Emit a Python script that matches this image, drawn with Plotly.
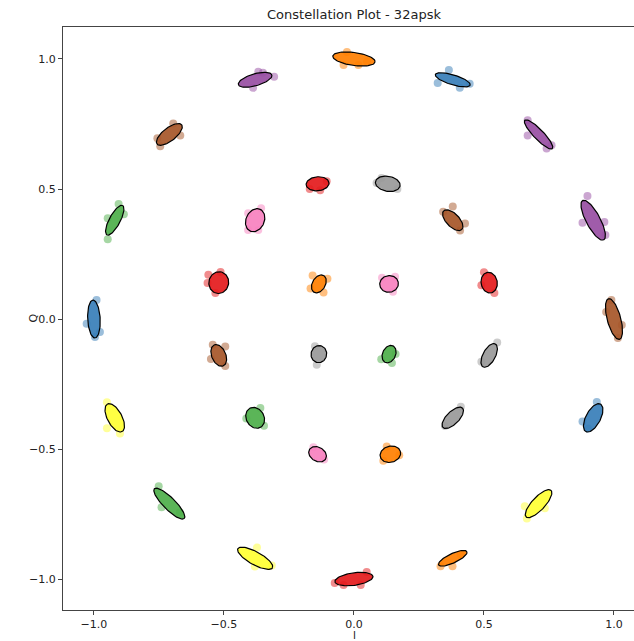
import numpy as np
import plotly.graph_objects as go

# ---- data ----
PALETTE = {"red": "#e41a1c", "blue": "#377eb8", "green": "#4daf4a", "purple": "#984ea3",
           "orange": "#ff7f00", "yellow": "#ffff33", "brown": "#a65628", "pink": "#f781bf",
           "gray": "#999999"}

center_i = [1.00, 0.92, 0.71, 0.38, 0.00, -0.38, -0.71, -0.92, -1.00, -0.92, -0.71, -0.38, 0.00, 0.38, 0.71, 0.92,
            0.52, 0.38, 0.13, -0.14, -0.38, -0.52, -0.52, -0.38, -0.14, 0.14, 0.38, 0.52,
            0.135, -0.135, -0.135, 0.135]
center_q = [0.00, 0.38, 0.71, 0.92, 1.00, 0.92, 0.71, 0.38, 0.00, -0.38, -0.71, -0.92, -1.00, -0.92, -0.71, -0.38,
            0.14, 0.38, 0.52, 0.52, 0.38, 0.14, -0.14, -0.38, -0.52, -0.52, -0.38, -0.14,
            0.135, 0.135, -0.135, -0.135]
cluster_color = ["brown", "purple", "purple", "blue", "orange", "purple", "brown", "green",
                 "blue", "yellow", "green", "yellow", "red", "orange", "yellow", "blue",
                 "red", "brown", "gray", "red", "pink", "red", "brown", "green",
                 "pink", "orange", "gray", "gray",
                 "pink", "orange", "gray", "green"]
ell_a = [0.081, 0.086, 0.076, 0.070, 0.082, 0.067, 0.060, 0.064, 0.073, 0.060, 0.081, 0.076, 0.074, 0.060, 0.070, 0.060,
         0.040, 0.050, 0.048, 0.044, 0.046, 0.042, 0.044, 0.042, 0.036, 0.040, 0.053, 0.050,
         0.036, 0.037, 0.033, 0.035]
ell_b = [0.026, 0.027, 0.019, 0.019, 0.025, 0.023, 0.025, 0.021, 0.024, 0.028, 0.023, 0.025, 0.024, 0.018, 0.025, 0.028,
         0.031, 0.025, 0.029, 0.027, 0.035, 0.038, 0.027, 0.034, 0.027, 0.031, 0.024, 0.024,
         0.032, 0.025, 0.030, 0.025]
ell_angle = [105, -62, -46, -17, -8, 16, 38, 62, 93, 118, -45, -29, 8, 25, 47, 62,
             100, -46, -10, 5, 65, 80, 113, 120, -30, 15, 45, 62,
             10, 60, 80, 65]

# visible scatter points around each cluster, offsets from the cluster centre
pts_di = [[-0.010, 0.030, 0.015, -0.030], [-0.022, 0.043, 0.047, -0.041], [-0.042, -0.042, 0.031, 0.050],
          [-0.015, -0.058, 0.027, 0.065], [-0.040, 0.017, -0.027, 0.050], [0.073, 0.012, -0.008, 0.030],
          [-0.046, -0.035, 0.015, 0.042], [-0.027, 0.015, -0.027, 0.035], [0.010, -0.028, 0.023, 0.004],
          [-0.030, -0.030, 0.020], [-0.041, -0.030, 0.040], [0.007, 0.064, -0.001],
          [-0.074, 0.049, -0.040, 0.026], [-0.047, -0.001, 0.030], [-0.045, -0.053, 0.024],
          [0.014, -0.041, -0.020],
          [-0.020, 0.020, -0.030], [0.000, -0.037, 0.047, 0.028], [-0.043, 0.037, -0.024],
          [-0.030, 0.010, 0.035], [-0.027, 0.023, -0.027, 0.012], [-0.040, -0.043, -0.013, 0.007],
          [-0.023, -0.030, 0.025, 0.025], [-0.034, 0.020, 0.034], [-0.016, 0.025],
          [-0.014, 0.034, -0.027], [0.031, -0.030], [0.031, -0.030],
          [-0.027, 0.023, 0.015], [-0.024, 0.033, 0.018, -0.032], [-0.015, -0.008], [-0.030, 0.025, 0.011]]
pts_dq = [[0.073, -0.023, -0.073, 0.027], [0.093, -0.007, -0.057, -0.010], [0.054, -0.004, -0.054, -0.042],
          [0.038, -0.012, -0.031, -0.015], [-0.023, -0.023, 0.027, -0.010], [0.012, 0.031, -0.031, 0.027],
          [-0.015, -0.046, 0.042, -0.004], [-0.073, 0.062, 0.008, 0.023], [0.073, -0.018, -0.050, -0.069],
          [0.060, -0.040, -0.060], [0.067, -0.014, -0.033], [0.041, -0.028, -0.032],
          [-0.015, 0.027, -0.023, -0.023], [-0.031, -0.031, 0.015], [-0.057, -0.010, -0.018],
          [0.061, -0.014, -0.041],
          [0.040, -0.040, -0.010], [0.053, 0.033, -0.013, -0.040], [0.003, -0.020, 0.022],
          [-0.020, -0.025, 0.010], [0.027, 0.046, -0.038, -0.038], [0.030, -0.001, -0.040, 0.041],
          [0.041, -0.014, -0.041, 0.034], [-0.003, 0.038, -0.030], [0.027, -0.020],
          [0.030, -0.004, -0.025], [0.043, -0.031], [0.050, -0.024],
          [0.024, 0.028, -0.030], [0.032, 0.020, -0.033, -0.018], [0.030, -0.041], [-0.020, 0.000, -0.034]]

x_range = [-1.119, 1.077]
y_range = [-1.119, 1.123]
tick_vals = [-1.0, -0.5, 0.0, 0.5, 1.0]
tick_text = ["\u22121.0", "\u22120.5", "0.0", "0.5", "1.0"]


def rgba(hex_color, alpha):
    h = hex_color.lstrip("#")
    r, g, b = int(h[0:2], 16), int(h[2:4], 16), int(h[4:6], 16)
    return f"rgba({r},{g},{b},{alpha})"


fig = go.Figure()
t = np.linspace(0, 2 * np.pi, 80)

for k in range(len(center_i)):
    col = PALETTE[cluster_color[k]]
    th = np.deg2rad(ell_angle[k])
    ex = center_i[k] + ell_a[k] * np.cos(t) * np.cos(th) - ell_b[k] * np.sin(t) * np.sin(th)
    ey = center_q[k] + ell_a[k] * np.cos(t) * np.sin(th) + ell_b[k] * np.sin(t) * np.cos(th)
    px = [center_i[k] + d for d in pts_di[k]]
    py = [center_q[k] + d for d in pts_dq[k]]
    fig.add_trace(go.Scatter(x=px, y=py, mode="markers",
                             marker=dict(size=8, color=rgba(col, 0.5), line=dict(width=0)),
                             hoverinfo="skip", showlegend=False))
    fig.add_trace(go.Scatter(x=ex, y=ey, mode="lines", fill="toself",
                             fillcolor=rgba(col, 0.92), line=dict(color="black", width=1.2),
                             hoverinfo="skip", showlegend=False))

axis_common = dict(showgrid=False, zeroline=False, showline=True, linecolor="#444444", linewidth=1,
                   ticks="outside", ticklen=4, tickwidth=1, tickcolor="#444444",
                   tickfont=dict(family="DejaVu Sans", size=11, color="#222222"))

fig.update_layout(
    width=634, height=641,
    margin=dict(l=63, r=0, t=27, b=31),
    paper_bgcolor="white", plot_bgcolor="white",
    hovermode=False,
    title=dict(text="Constellation Plot - 32apsk", x=(354 - 63) / 571, xref="paper",
               y=1 - 14 / 641, yref="container", xanchor="center", yanchor="middle",
               font=dict(family="DejaVu Sans", size=13, color="#222222")),
    xaxis=dict(range=x_range, tickvals=tick_vals, ticktext=tick_text, mirror=True, **axis_common),
    yaxis=dict(range=y_range, tickvals=tick_vals, ticktext=tick_text, mirror=False, **axis_common),
    annotations=[
        dict(text="I", xref="paper", yref="paper", x=(354 - 63) / 571, y=-(635.5 - 610) / 583,
             showarrow=False, xanchor="center", yanchor="middle",
             font=dict(family="DejaVu Sans", size=10, color="#222222")),
        dict(text="Q", xref="paper", yref="paper", x=-(63 - 33) / 571, y=0.5, textangle=-90,
             showarrow=False, xanchor="center", yanchor="middle",
             font=dict(family="DejaVu Sans", size=11, color="#222222")),
    ],
)

fig.write_html("out.html",
               config={"displayModeBar": False, "displaylogo": False, "staticPlot": True},
               post_script="document.body.style.margin='0';document.body.style.overflow='hidden';")
